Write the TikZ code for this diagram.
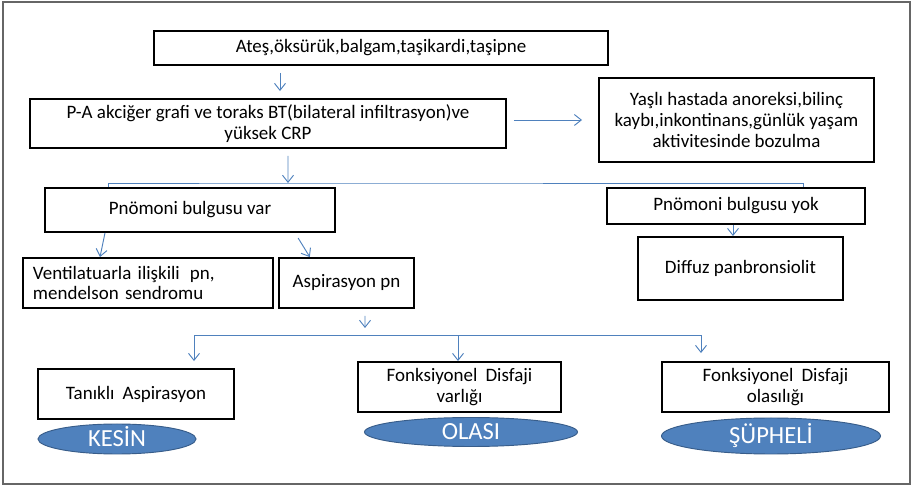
\documentclass[tikz,border=0pt]{standalone}
\usepackage{fontspec}
\setmainfont{Carlito}
\usepackage{tikz}
\usetikzlibrary{positioning, arrows.meta, shapes.geometric, calc}

\definecolor{linkblue}{RGB}{79,129,189}
\definecolor{ovalblue}{RGB}{79,129,189}
\definecolor{ovaledge}{RGB}{56,93,138}

\begin{document}
\begin{tikzpicture}[
            x=0.03cm, y=-0.03cm,
            block/.style={rectangle, draw, line width=1.6pt, align=center,
                font=\fontsize{16.2}{17.8}\selectfont, inner sep=2pt},
            oval/.style={ellipse, draw=ovaledge, fill=ovalblue, line width=0.8pt,
                inner sep=0pt, text=white, font=\fontsize{21}{23}\selectfont,
                text height=13.5pt, text depth=0pt},
            arr/.style={draw=linkblue, line width=0.8pt,
                -{Straight Barb[length=2.1mm, width=3.3mm, line width=0.8pt]}},
            line/.style={draw=linkblue, line width=0.8pt},
        ]
        % frame
        \useasboundingbox (0,0) rectangle (913,487);
        \draw[gray!80!black, line width=1.5pt] (3,2) rectangle (910,484);

        % Blocks
        \node[block, minimum width=13.62cm, minimum height=1.02cm] (sym) at (381,48)
            {Ateş,öksürük,balgam,taşikardi,taşipne};
        \node[block, minimum width=14.28cm, minimum height=1.47cm] (pa) at (268,123.5)
            {P-A akciğer grafi ve toraks BT(bilateral infiltrasyon)ve\\yüksek CRP};
        \node[block, minimum width=8.25cm, minimum height=2.52cm] (yasli) at (736.5,120)
            {Yaşlı hastada anoreksi,bilinç\\kaybı,inkontinans,günlük yaşam\\aktivitesinde bozulma};

        \node[block, minimum width=8.7cm, minimum height=1.32cm] (var) at (190,210)
            {Pnömoni bulgusu var};
        \node[block, minimum width=7.74cm, minimum height=1.08cm] (yok) at (736,206)
            {Pnömoni bulgusu yok};
        \node[block, minimum width=6.15cm, minimum height=1.89cm] (diffuz) at (740.5,268.5)
            {Diffuz panbronsiolit};

        \node[block, align=left, text width=6.9cm, inner xsep=0.3cm,
            minimum height=1.5cm] (vent) at (148,283)
            {Ventilatuarla ilişkili\hspace{0.2em} pn,\\mendelson sendromu};
        \node[block, minimum width=4.05cm, minimum height=1.5cm] (asp) at (346.5,283)
            {Aspirasyon pn};

        \node[block, minimum width=5.88cm, minimum height=1.5cm] (tanikli) at (136,394)
            {Tanıklı\hspace{0.2em} Aspirasyon};
        \node[block, minimum width=6.09cm, minimum height=1.5cm] (varligi) at (459.5,387)
            {Fonksiyonel\hspace{0.2em} Disfaji\\varlığı};
        \node[block, minimum width=6.81cm, minimum height=1.5cm] (olasiligi) at (775.5,387)
            {Fonksiyonel\hspace{0.2em} Disfaji\\olasılığı};

        % ovals
        \node[oval, minimum width=4.74cm, minimum height=0.9cm] (kesin) at (117,439) {KESİN};
        \node[oval, minimum width=6.39cm, minimum height=0.87cm] (olasi) at (471,432) {OLASI};
        \node[oval, minimum width=6.57cm, minimum height=1.08cm] (supheli) at (771,436) {ŞÜPHELİ};

        % branch points
        \coordinate (split1) at (288,183);
        \coordinate (split2) at (365,335);

        % connectors
        \draw[arr, shorten <=0.21cm, shorten >=0.21cm]
            ([xshift=-3.03cm]sym.south) -- ([xshift=-3.03cm]sym.south |- pa.north);
        \draw[arr, shorten <=0.21cm, shorten >=0.48cm] (pa.east |- yasli.west) -- (yasli.west);

        \draw[arr, shorten <=0.21cm] ([xshift=0.6cm]pa.south) -- (split1);
        \draw[line] ([xshift=-2.46cm]var.north) |- (split1) -| ([xshift=2.01cm]yok.north);

        \draw[arr] ([xshift=-0.09cm]yok.south) -- ([xshift=-0.09cm]yok.south |- diffuz.north);

        \draw[arr] ([xshift=-2.55cm]var.south) -- ([xshift=-1.44cm]vent.north);
        \draw[arr, shorten <=0.18cm] ([xshift=3.15cm]var.south) -- ([xshift=-1.1cm]asp.north);

        \draw[arr, shorten <=0.21cm, shorten >=0.21cm] ([xshift=0.555cm]asp.south) -- (split2);
        \draw[arr, shorten >=0.21cm] (split2) -| ([xshift=1.74cm]tanikli.north);
        \draw[arr] (split2) -| ([xshift=-0.045cm]varligi.north);
        \draw[arr, shorten >=0.24cm] (split2) -| ([xshift=-2.235cm]olasiligi.north);

    \end{tikzpicture}
\end{document}
